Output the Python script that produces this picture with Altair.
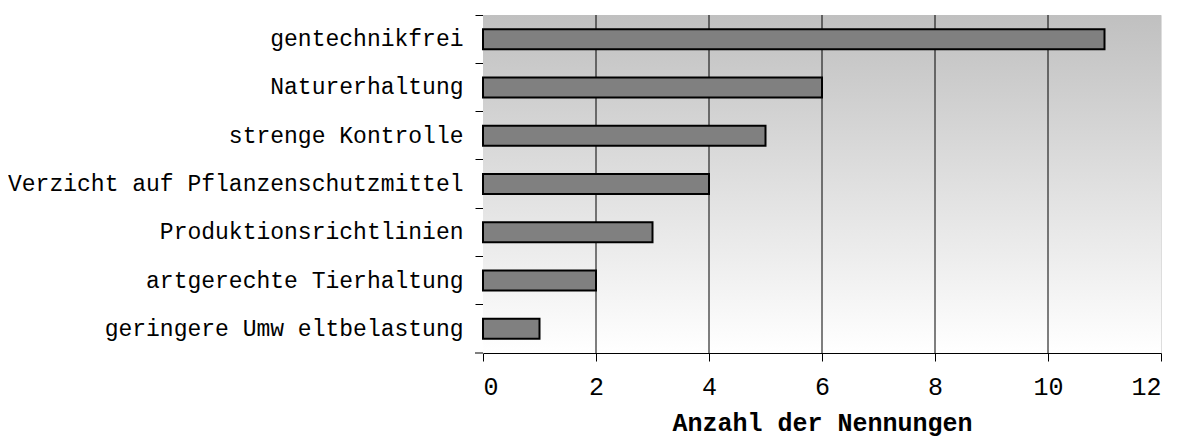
import altair as alt
import pandas as pd

categories = [
    "gentechnikfrei",
    "Naturerhaltung",
    "strenge Kontrolle",
    "Verzicht auf Pflanzenschutzmittel",
    "Produktionsrichtlinien",
    "artgerechte Tierhaltung",
    "geringere Umw eltbelastung",
]
values = [11, 6, 5, 4, 3, 2, 1]
grid_values = [2, 4, 6, 8, 10]
x_ticks = [0, 2, 4, 6, 8, 10, 12]

W, H = 678, 338
FONT = "Liberation Mono"

df = pd.DataFrame({"cat": categories, "n": values})
grid_df = pd.DataFrame({"g": grid_values})

xscale = alt.Scale(domain=[0, 12], nice=False, zero=True)
yscale = alt.Scale(domain=categories, paddingInner=0, paddingOuter=0)

bg = alt.Chart(pd.DataFrame({"a": [0]})).mark_rect(
    color=alt.Gradient(
        gradient="linear", x1=0, y1=0, x2=0, y2=1,
        stops=[alt.GradientStop(color="#c0c0c0", offset=0),
               alt.GradientStop(color="#ffffff", offset=1)],
    )
).encode(x=alt.value(0), x2=alt.value(W), y=alt.value(0), y2=alt.value(H))

grid = alt.Chart(grid_df).mark_rule(color="black", strokeWidth=1).encode(
    x=alt.X("g:Q", scale=xscale),
    y=alt.value(0), y2=alt.value(H),
)

bottom_tick = alt.Chart(pd.DataFrame({"a": [0]})).mark_rule(color="black", strokeWidth=1).encode(
    x=alt.value(-8), x2=alt.value(0), y=alt.value(H)
)

bars = alt.Chart(df).mark_bar(
    size=20, color="#808080", stroke="black", strokeWidth=2
).encode(
    x=alt.X(
        "n:Q", scale=xscale,
        axis=alt.Axis(
            values=x_ticks, format="d", grid=False, title="Anzahl der Nennungen",
            domainColor="black", tickColor="black", tickSize=8,
            labelFont=FONT, labelFontSize=25, labelColor="black", labelPadding=13,
            titleFont=FONT, titleFontSize=25, titleFontWeight="bold",
            titleColor="black", titlePadding=11,
        ),
    ),
    y=alt.Y(
        "cat:N", scale=yscale, sort=categories,
        axis=alt.Axis(
            title=None, bandPosition=0, domainColor="#808080", tickColor="black",
            tickSize=8, labelFont=FONT, labelFontSize=23, labelColor="black",
            labelPadding=12, labelLimit=600,
        ),
    ),
)

chart = alt.layer(bg, grid, bottom_tick, bars).properties(
    width=W, height=H,
    autosize=alt.AutoSizeParams(type="none"),
    padding={"left": 475, "top": 7, "right": 17, "bottom": 85},
).configure_view(stroke="#808080", strokeWidth=1.5).configure(background="white")

chart.save("out.html", embed_options={"renderer": "svg", "actions": False})
